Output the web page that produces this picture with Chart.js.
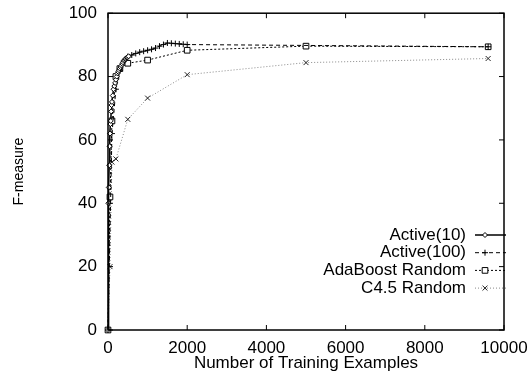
<!DOCTYPE html>
<html>
<head>
<meta charset="utf-8">
<script src="https://cdn.jsdelivr.net/npm/chart.js@4/dist/chart.umd.min.js"></script>
<style>
html,body{margin:0;padding:0;background:#fff;}
#wrap{width:529px;height:374px;position:relative;}
</style>
</head>
<body>
<div id="wrap"><canvas id="c"></canvas></div>
<script>
// ---- data ----
const active10X = [0,10,20,30,40,50,60,70,80,90,100,120,140,160,180,200,220,240,260,280,300,320,340,360,380,400,420,440,460,480,500,520];
const active10Y = [0,40,45,52,58,62,65,66,69,71,72,74,76,77,78,79,80,81,81.5,82,82.5,83,83.5,84,84.5,85,85.3,85.6,85.8,86,86.2,86.4];

const active100X = [0,100,200,300,400,500,600,700,800,900,1000,1100,1200,1300,1400,1500,1600,1700,1800,1900,2000,9600];
const active100Y = [0,62,76,82,84.8,86.3,86.8,87.3,87.7,88,88.3,88.6,89,89.6,90.1,90.6,90.5,90.4,90.3,90.2,90.1,89.4];

const adaX = [0,50,100,200,300,500,1000,2000,5000,9600];
const adaY = [0,42,66,80,82.5,84.2,85.2,88.3,89.6,89.4];

const c45X = [0,50,100,200,500,1000,2000,5000,9600];
const c45Y = [0,20,53,54,66.5,73.2,80.6,84.4,85.7];

const xTicks = [0,2000,4000,6000,8000,10000];
const yTicks = [0,20,40,60,80,100];

const seriesLabels = ['Active(10)','Active(100)','AdaBoost Random','C4.5 Random'];
const xTitle = 'Number of Training Examples';
const yTitle = 'F-measure';

const FONT = '"Liberation Sans", Arial, Helvetica, sans-serif';

function pts(xs, ys){ return xs.map((x,i)=>({x:x, y:ys[i]})); }

const datasets = [
  {label:seriesLabels[0], data:pts(active10X,active10Y), borderColor:'#000', borderWidth:1.5, borderDash:[],
   pointStyle:'rectRot', pointRadius:2.5, pointBorderWidth:1, pointBackgroundColor:'#fff', pointBorderColor:'#000', clip:false},
  {label:seriesLabels[1], data:pts(active100X,active100Y), borderColor:'#000', borderWidth:1, borderDash:[4,3],
   pointStyle:'cross', pointRadius:3, pointBorderWidth:1, pointBackgroundColor:'#fff', pointBorderColor:'#000', clip:false},
  {label:seriesLabels[2], data:pts(adaX,adaY), borderColor:'#000', borderWidth:1, borderDash:[2,2],
   pointStyle:'rect', pointRadius:4, pointBorderWidth:1, pointBackgroundColor:'#fff', pointBorderColor:'#000', clip:false},
  {label:seriesLabels[3], data:pts(c45X,c45Y), borderColor:'#888', borderWidth:1, borderDash:[1,2],
   pointStyle:'crossRot', pointRadius:3.5, pointBorderWidth:1, pointBackgroundColor:'#fff', pointBorderColor:'#222', clip:false}
];

function drawMarker(ctx, style, r, x, y){
  ctx.beginPath();
  if(style==='rectRot'){
    ctx.moveTo(x, y-r); ctx.lineTo(x+r, y); ctx.lineTo(x, y+r); ctx.lineTo(x-r, y); ctx.closePath();
    ctx.fill(); ctx.stroke();
  } else if(style==='cross'){
    ctx.moveTo(x-r, y); ctx.lineTo(x+r, y); ctx.moveTo(x, y-r); ctx.lineTo(x, y+r); ctx.stroke();
  } else if(style==='rect'){
    const s = r*Math.SQRT1_2; ctx.rect(x-s, y-s, 2*s, 2*s); ctx.fill(); ctx.stroke();
  } else if(style==='crossRot'){
    const s = r*Math.SQRT1_2;
    ctx.moveTo(x-s, y-s); ctx.lineTo(x+s, y+s); ctx.moveTo(x-s, y+s); ctx.lineTo(x+s, y-s); ctx.stroke();
  }
}

const framePlugin = {
  id:'frame',
  afterDatasetsDraw(chart){
    const {ctx, chartArea:{left,right,top,bottom}, scales:{x,y}} = chart;
    ctx.save();
    ctx.setLineDash([]);
    ctx.strokeStyle = '#000';
    ctx.lineWidth = 1.5;
    ctx.strokeRect(left, top, right-left, bottom-top);
    ctx.lineWidth = 1;
    const L = 5;
    ctx.beginPath();
    xTicks.forEach(v=>{
      const px = x.getPixelForValue(v);
      ctx.moveTo(px, bottom); ctx.lineTo(px, bottom-L);
      ctx.moveTo(px, top); ctx.lineTo(px, top+L);
    });
    yTicks.forEach(v=>{
      const py = y.getPixelForValue(v);
      ctx.moveTo(left, py); ctx.lineTo(left+L, py);
      ctx.moveTo(right, py); ctx.lineTo(right-L, py);
    });
    ctx.stroke();
    ctx.restore();
  },
  afterDraw(chart){
    const {ctx, chartArea:{right,bottom}} = chart;
    ctx.save();
    chart.data.datasets.forEach((ds,i)=>{
      const yy = bottom - 95 + i*17.7;
      ctx.font = '17px ' + FONT;
      ctx.textAlign = 'right';
      ctx.textBaseline = 'middle';
      ctx.fillStyle = '#000';
      ctx.fillText(ds.label, right-38, yy);
      ctx.strokeStyle = ds.borderColor;
      ctx.lineWidth = ds.borderWidth;
      ctx.setLineDash(ds.borderDash || []);
      ctx.beginPath(); ctx.moveTo(right-29, yy); ctx.lineTo(right+2, yy); ctx.stroke();
      ctx.setLineDash([]);
      ctx.strokeStyle = ds.pointBorderColor; ctx.fillStyle = ds.pointBackgroundColor; ctx.lineWidth = 1;
      drawMarker(ctx, ds.pointStyle, ds.pointRadius, right-19, yy);
    });
    ctx.restore();
  }
};

new Chart(document.getElementById('c'), {
  type:'line',
  data:{datasets:datasets},
  options:{
    responsive:true,
    maintainAspectRatio:false,
    animation:false,
    layout:{padding:{left:0, right:25, top:8, bottom:0}},
    plugins:{legend:{display:false}, tooltip:{enabled:false}},
    elements:{line:{tension:0}},
    scales:{
      x:{
        type:'linear', min:0, max:10000,
        afterBuildTicks(s){ s.ticks = xTicks.map(v=>({value:v})); },
        afterFit(s){ s.height = 44; },
        grid:{display:false}, border:{display:false},
        ticks:{font:{family:FONT,size:17}, color:'#000', padding:0, maxRotation:0, callback:(v)=>String(v)},
        title:{display:true, text:xTitle, font:{family:FONT,size:17}, color:'#000', padding:{top:0,bottom:0}}
      },
      y:{
        type:'linear', min:0, max:100,
        afterBuildTicks(s){ s.ticks = yTicks.map(v=>({value:v})); },
        afterFit(s){ s.width = 108; },
        grid:{display:false}, border:{display:false},
        ticks:{font:{family:FONT,size:17}, color:'#000', padding:3, callback:(v)=>String(v)},
        title:{display:true, text:yTitle, font:{family:FONT,size:14}, color:'#000', padding:{top:11,bottom:0}}
      }
    }
  },
  plugins:[framePlugin]
});
</script>
</body>
</html>
